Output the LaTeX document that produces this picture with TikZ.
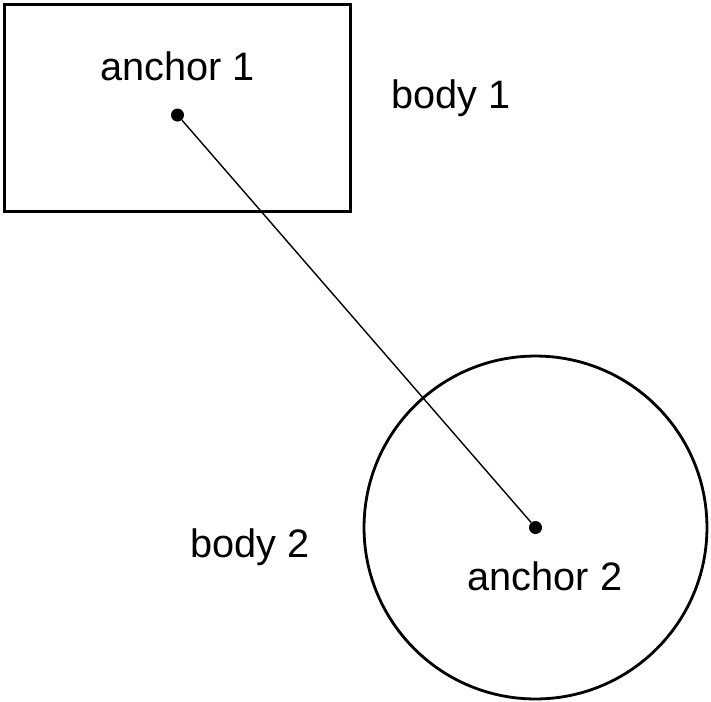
\documentclass[tikz,border=0pt]{standalone}
\usepackage{fontspec}
\setmainfont{Liberation Sans}
\usetikzlibrary{positioning}

\begin{document}
\begin{tikzpicture}[x=0.02cm, y=-0.02cm]
    \tikzstyle{body_style} = [draw, line width=1.6pt, inner sep=0pt]
    \tikzstyle{anchor_style} = [circle, fill, inner sep=0pt, minimum size=0.26cm]
    \tikzstyle{text_style} = [anchor=base, inner sep=0pt, font=\fontsize{22.6}{27}\selectfont]

    \useasboundingbox (0,0) rectangle (711,701);

    % bodies
    \node[body_style, minimum width=6.92cm, minimum height=4.14cm] (body1) at (177.5,108) {};
    \node[body_style, circle, minimum size=6.86cm] (body2) at (535.5,527.5) {};

    % anchors
    \node[anchor_style] (anchor1) at (177.5,115) {};
    \node[anchor_style] (anchor2) at (535.5,527.5) {};
    \draw[line width=0.8pt] (anchor1) -- (anchor2);

    % labels
    \node[text_style] (anchor1_label) at (177.5,80) {anchor 1};
    \node[text_style] (body1_label) at (451,108) {body 1};
    \node[text_style] (body2_label) at (250,557) {body 2};
    \node[text_style] (anchor2_label) at (545,590) {anchor 2};
\end{tikzpicture}
\end{document}
